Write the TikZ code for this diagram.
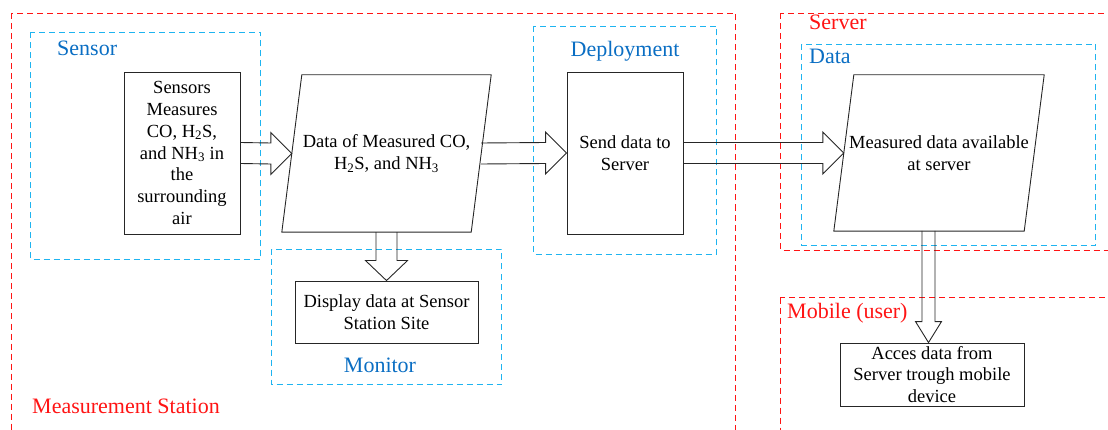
\documentclass[tikz,border=0pt]{standalone}
\usepackage{fontspec}
\setmainfont{Liberation Serif}
\usetikzlibrary{calc}
\definecolor{grpred}{RGB}{255,20,20}
\definecolor{grpcyan}{RGB}{30,180,240}
\definecolor{lblblue}{RGB}{10,110,195}
\newcommand\bodyfont{\fontsize{18.5}{21.8}\selectfont}
\newcommand\lblfont{\fontsize{22}{25}\selectfont}
\begin{document}
\begin{tikzpicture}[x=1pt,y=-1pt,
  proc/.style={draw=black!85, line width=0.9pt, fill=white, inner sep=0pt, align=center, font=\bodyfont},
  paratext/.style={inner sep=0pt, align=center, font=\bodyfont},
  para/.style={draw=black!85, line width=0.9pt},
  blk/.style={draw=black!85, line width=0.9pt},
  redgrp/.style={draw=grpred, line width=1pt, dash pattern=on 6pt off 4pt},
  cyangrp/.style={draw=grpcyan, line width=1pt, dash pattern=on 6pt off 4pt},
  redlbl/.style={text=grpred, font=\lblfont, inner sep=0pt},
  bluelbl/.style={text=lblblue, font=\lblfont, inner sep=0pt}]
\useasboundingbox (0,0) rectangle (1108,430);
\clip (0,0) rectangle (1108,430);
% groups
\draw[redgrp] (11.5,13.5) rectangle (735.5,460);
\draw[redgrp] (780.5,13.5) rectangle (1130,250.5);
\draw[redgrp] (780.5,297.5) rectangle (1130,460);
\draw[cyangrp] (30.5,32.5) rectangle (260.5,259.5);
\draw[cyangrp] (271.5,249.5) rectangle (501.5,384.5);
\draw[cyangrp] (533.5,26.5) rectangle (716.5,254.5);
\draw[cyangrp] (801.5,44.5) rectangle (1095.5,245.5);
% group labels
\node[redlbl, anchor=west] (lms) at (32,406) {Measurement Station};
\node[redlbl, anchor=west] (lsrv) at (809,22) {Server};
\node[redlbl, anchor=west] (lmob) at (787,313) {Mobile (user)};
\node[bluelbl, anchor=west] (lsen) at (57,48) {Sensor};
\node[bluelbl] (ldep) at (625,51) {Deployment};
\node[bluelbl] (lmon) at (380,365) {Monitor};
\node[bluelbl, anchor=west] (ldat) at (809,56) {Data};
% process nodes
\node[proc, minimum width=116pt, minimum height=162pt] (sens) at (182,153)
  {Sensors\\Measures\\CO, H\textsubscript{2}S,\\and NH\textsubscript{3} in\\the\\surrounding\\air};
\node[paratext, minimum width=189pt, minimum height=157pt] (par1) at (386.5,153.5)
  {Data of Measured CO,\\H\textsubscript{2}S, and NH\textsubscript{3}};
\draw[para] ($(par1.south west)+(-10,0)$) -- ($(par1.south east)+(-10,0)$)
  -- ($(par1.north east)+(10,0)$) -- ($(par1.north west)+(10,0)$) -- cycle;
\node[proc, minimum width=116pt, minimum height=162pt] (send) at (625,153)
  {Send data to\\Server};
\node[proc, minimum width=183pt, minimum height=62pt] (disp) at (386.5,312)
  {Display data at Sensor\\Station Site};
\node[paratext, minimum width=190pt, minimum height=156pt] (par2) at (939,153)
  {Measured data available\\at server};
\draw[para] ($(par2.south west)+(-10,0)$) -- ($(par2.south east)+(-10,0)$)
  -- ($(par2.north east)+(10,0)$) -- ($(par2.north west)+(10,0)$) -- cycle;
\node[proc, minimum width=184pt, minimum height=63pt] (acc) at (932,374.5)
  {Acces data from\\Server trough mobile\\device};
% block arrows
\newcommand\harrow[2]{%
  \draw[blk] ($(#1)+(0,-10.5)$) -- ($(#2)+(-21,-10.5)$) -- ($(#2)+(-21,-21)$) -- (#2)
    -- ($(#2)+(-21,21)$) -- ($(#2)+(-21,10.5)$) -- ($(#1)+(0,10.5)$);}
\harrow{sens.east}{par1.west}
\harrow{par1.east}{send.west}
\harrow{send.east}{par2.west}
\draw[blk] ($(par1.south)+(-10.5,0)$) -- ($(disp.north)+(-10.5,-20)$) -- ($(disp.north)+(-21,-20)$)
  -- (disp.north) -- ($(disp.north)+(21,-20)$) -- ($(disp.north)+(10.5,-20)$) -- ($(par1.south)+(10.5,0)$);
\coordinate (v2) at (928.5,231);
\coordinate (v2t) at (v2 |- acc.north);
\draw[blk] ($(v2)+(-6.5,0)$) -- ($(v2t)+(-6.5,-21)$) -- ($(v2t)+(-13,-21)$) -- (v2t)
  -- ($(v2t)+(13,-21)$) -- ($(v2t)+(6.5,-21)$) -- ($(v2)+(6.5,0)$);
\end{tikzpicture}
\end{document}
